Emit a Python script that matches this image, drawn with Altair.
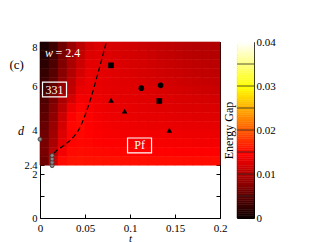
import altair as alt
import pandas as pd
import numpy as np

FONT = "Liberation Serif"

# ---- heatmap grid (cell centres) ----
T_CENTERS = [0.005, 0.015, 0.025, 0.035, 0.045, 0.055, 0.065, 0.075, 0.085, 0.095,
             0.105, 0.115, 0.125, 0.135, 0.145, 0.155, 0.165, 0.175, 0.185, 0.195]
D_CENTERS = [7.8, 7.4, 7.0, 6.6, 6.2, 5.8, 5.4, 5.0, 4.6, 4.2, 3.8, 3.4, 3.0, 2.6]
T_STEP = 0.01
D_STEP = 0.4
# energy gap values, units of 1e-3, rows top (d=7.8) to bottom (d=2.6)
GAP = [
    [1.0, 3.0, 6.0, 8.5, 10.5, 12.0, 12.5, 12.3, 12.2, 12.0, 11.8, 11.5, 11.2, 11.0, 10.8, 10.5, 10.3, 10.2, 10.1, 10.0],
    [1.5, 3.5, 6.5, 9.0, 11.0, 12.5, 12.8, 12.6, 12.4, 12.2, 12.0, 11.8, 11.5, 11.2, 11.0, 10.8, 10.5, 10.4, 10.3, 10.2],
    [2.0, 4.0, 7.0, 9.5, 11.5, 13.0, 13.0, 12.8, 12.6, 12.4, 12.2, 12.0, 11.8, 11.5, 11.3, 11.1, 10.9, 10.7, 10.6, 10.5],
    [2.5, 4.5, 7.5, 10.0, 12.0, 13.3, 13.1, 12.9, 12.7, 12.6, 12.4, 12.2, 12.0, 11.8, 11.6, 11.4, 11.2, 11.0, 10.9, 10.8],
    [3.0, 5.0, 8.0, 10.5, 12.8, 13.5, 13.2, 13.0, 12.9, 12.8, 12.6, 12.4, 12.2, 12.0, 11.9, 11.7, 11.5, 11.3, 11.2, 11.1],
    [3.5, 5.5, 8.5, 11.0, 13.3, 13.6, 13.3, 13.1, 13.0, 12.9, 12.8, 12.6, 12.5, 12.3, 12.2, 12.0, 11.9, 11.7, 11.6, 11.5],
    [4.0, 6.5, 9.5, 12.0, 14.0, 13.8, 13.5, 13.3, 13.1, 13.0, 12.9, 12.8, 12.7, 12.6, 12.5, 12.4, 12.3, 12.2, 12.1, 12.0],
    [4.5, 7.5, 10.5, 13.5, 14.8, 14.2, 13.8, 13.5, 13.3, 13.2, 13.1, 13.0, 12.9, 12.8, 12.7, 12.6, 12.5, 12.5, 12.4, 12.4],
    [5.0, 8.0, 11.5, 14.5, 15.3, 14.5, 14.0, 13.7, 13.5, 13.4, 13.3, 13.2, 13.1, 13.1, 13.0, 12.9, 12.9, 12.8, 12.8, 12.7],
    [5.5, 8.5, 12.0, 15.0, 15.2, 14.6, 14.2, 14.0, 13.8, 13.7, 13.6, 13.5, 13.4, 13.4, 13.3, 13.3, 13.2, 13.2, 13.1, 13.1],
    [6.0, 9.0, 12.5, 14.8, 15.0, 14.7, 14.4, 14.2, 14.1, 14.0, 13.9, 13.9, 13.8, 13.8, 13.7, 13.7, 13.6, 13.6, 13.6, 13.5],
    [6.5, 9.5, 13.0, 14.8, 15.0, 14.9, 14.7, 14.6, 14.5, 14.4, 14.3, 14.3, 14.2, 14.2, 14.1, 14.1, 14.1, 14.0, 14.0, 14.0],
    [6.5, 10.5, 14.0, 15.2, 15.3, 15.2, 15.1, 15.0, 14.9, 14.9, 14.8, 14.8, 14.7, 14.7, 14.7, 14.6, 14.6, 14.6, 14.6, 14.5],
    [6.0, 12.0, 15.2, 15.7, 15.8, 15.7, 15.7, 15.6, 15.6, 15.5, 15.5, 15.5, 15.4, 15.4, 15.4, 15.4, 15.3, 15.3, 15.3, 15.3],
]

# ---- dashed phase boundary ----
LINE_T = [0.0133, 0.0144, 0.0256, 0.0348, 0.0440, 0.0515, 0.0570, 0.0644, 0.0737]
LINE_D = [2.60, 2.86, 3.27, 3.58, 4.08, 4.83, 5.51, 6.58, 8.00]

# ---- grey markers ----
GREY_T = [0.0135, 0.0135, 0.0135, 0.0135, 0.0]
GREY_D = [2.38, 2.53, 2.68, 2.84, 3.58]

# ---- black markers ----
MARK_T = [0.0789, 0.1326, 0.1126, 0.1340, 0.0790, 0.0940, 0.1437]
MARK_D = [6.94, 5.32, 5.90, 6.03, 5.35, 4.86, 3.99]
MARK_KIND = ["square", "square", "circle", "circle", "triangle", "triangle", "triangle"]

# ---- annotations ----
BOX_TEXT = ["331", "Pf"]
BOX_T = [0.0161, 0.1106]
BOX_D = [5.84, 3.30]

X_TICKS = [0, 0.05, 0.1, 0.15, 0.2]
Y_TICKS = [0, 1, 2, 2.4, 3, 4, 5, 6, 7, 8]
Y_LABELS = ["0", "", "2", "2.4", "", "4", "", "6", "", "8"]
CB_LABELS = [0, 0.01, 0.02, 0.03, 0.04]
CB_SEPARATORS = [0.005, 0.01, 0.015, 0.02, 0.025, 0.03, 0.035]

# ---- tables ----
rows = []
for i, d in enumerate(D_CENTERS):
    for j, t in enumerate(T_CENTERS):
        rows.append({"t0": t - T_STEP / 2, "t1": t + T_STEP / 2,
                     "d0": d - D_STEP / 2, "d1": d + D_STEP / 2,
                     "gap": GAP[i][j] / 1000.0})
heat_df = pd.DataFrame(rows)
line_df = pd.DataFrame({"t": LINE_T, "d": LINE_D, "o": list(range(len(LINE_T)))})
grey_df = pd.DataFrame({"t": GREY_T, "d": GREY_D})
mark_df = pd.DataFrame({"t": MARK_T, "d": MARK_D, "kind": MARK_KIND})
box_df = pd.DataFrame({"t": BOX_T, "d": BOX_D, "txt": BOX_TEXT})
w_df = pd.DataFrame({"t": [0.0056], "d": [7.5], "txt": ["w"]})
eq_df = pd.DataFrame({"t": [0.0172], "d": [7.5], "txt": ["= 2.4"]})
c_df = pd.DataFrame({"t": [-0.0259], "d": [6.95], "txt": ["(c)"]})

lv = np.linspace(0, 0.04, 81)
cb_df = pd.DataFrame({"lo": lv[:-1], "hi": lv[1:], "mid": (lv[:-1] + lv[1:]) / 2,
                      "a": 0.0, "b": 1.0})
sep_df = pd.DataFrame({"v": CB_SEPARATORS, "a": 0.0, "b": 1.0})

# ---- scales ----
xs = alt.Scale(domain=[0, 0.2], nice=False, zero=False)
ys = alt.Scale(domain=[0, 8], nice=False, zero=False)
cscale = alt.Scale(domain=[0, 0.0146, 0.0298, 0.04],
                   range=["#0b0000", "#ff0000", "#ffff00", "#ffffff"],
                   interpolate="rgb", clamp=True)
cys = alt.Scale(domain=[0, 0.04], nice=False, zero=False)
cxs = alt.Scale(domain=[0, 1], nice=False, zero=False)

# label lookup built from the two lists
ylab_expr = "''"
for v, s in zip(Y_TICKS, Y_LABELS):
    ylab_expr = "(abs(datum.value - %s) < 0.001 ? '%s' : %s)" % (v, s, ylab_expr)

x_bottom = alt.Axis(orient="bottom", values=X_TICKS, format="~g", title="t",
                    titleFontStyle="italic", titleFontSize=11, offset=-4, tickSize=4,
                    domain=False, grid=False, labelPadding=4, titlePadding=-1,
                    labelOverlap=False, labelFlush=False)
y_left = alt.Axis(orient="left", values=Y_TICKS, title="d",
                  titleFontStyle="italic", titleAngle=0, titleX=-23.5, titleY=88,
                  titleAlign="center", titleBaseline="middle", labelFontSize=10.5,
                  offset=-4, tickSize=4, domain=False, grid=False, labelPadding=3,
                  labelOverlap=False, labelFlush=False,
                  labelExpr=ylab_expr,
                  labelBaseline={"condition": {"test": "datum.value == 8", "value": "top"},
                                 "value": "middle"})
x_top = alt.Axis(orient="top", values=X_TICKS, labels=False, title=None, offset=-4,
                 tickSize=4, domain=False, grid=False)
y_right = alt.Axis(orient="right", values=Y_TICKS, labels=False, title=None, offset=-4,
                   tickSize=4, domain=False, grid=False)

heat = alt.Chart(heat_df).mark_rect(strokeWidth=0.6).encode(
    x=alt.X("t0:Q", scale=xs, axis=x_bottom),
    x2="t1:Q",
    y=alt.Y("d0:Q", scale=ys, axis=y_left),
    y2="d1:Q",
    color=alt.Color("gap:Q", scale=cscale, legend=None),
    stroke=alt.Stroke("gap:Q", scale=cscale, legend=None),
)

line = alt.Chart(line_df).mark_line(color="black", strokeDash=[5, 3], strokeWidth=1.2,
                                    interpolate="monotone").encode(
    x=alt.X("t:Q", scale=xs, axis=x_top),
    y=alt.Y("d:Q", scale=ys, axis=y_right),
    order="o:Q",
)

grey = alt.Chart(grey_df).mark_point(shape="circle", size=16, filled=True, fill="#8a8a8a",
                                     stroke="#3a3a3a", strokeWidth=0.8, opacity=1).encode(
    x=alt.X("t:Q", scale=xs, axis=None),
    y=alt.Y("d:Q", scale=ys, axis=None),
)

marks = alt.Chart(mark_df).mark_point(filled=True, color="black", size=32, opacity=1).encode(
    x=alt.X("t:Q", scale=xs, axis=None),
    y=alt.Y("d:Q", scale=ys, axis=None),
    shape=alt.Shape("kind:N", scale=alt.Scale(domain=["square", "circle", "triangle"],
                                              range=["square", "circle", "triangle-up"]),
                    legend=None),
)

boxes = alt.Chart(box_df).mark_point(
    shape="M-1.2,-0.74L1.2,-0.74L1.2,0.74L-1.2,0.74Z", size=400, filled=False,
    stroke="white", strokeWidth=1.2, opacity=1).encode(
    x=alt.X("t:Q", scale=xs, axis=None),
    y=alt.Y("d:Q", scale=ys, axis=None),
)

box_txt = alt.Chart(box_df).mark_text(color="white", fontSize=12, font=FONT,
                                      align="center", baseline="middle").encode(
    x=alt.X("t:Q", scale=xs, axis=None),
    y=alt.Y("d:Q", scale=ys, axis=None),
    text="txt:N",
)

w_txt = alt.Chart(w_df).mark_text(color="white", fontSize=12, font=FONT, fontStyle="italic",
                                  align="left", baseline="middle").encode(
    x=alt.X("t:Q", scale=xs, axis=None),
    y=alt.Y("d:Q", scale=ys, axis=None),
    text="txt:N",
)
eq_txt = alt.Chart(eq_df).mark_text(color="white", fontSize=12, font=FONT,
                                    align="left", baseline="middle").encode(
    x=alt.X("t:Q", scale=xs, axis=None),
    y=alt.Y("d:Q", scale=ys, axis=None),
    text="txt:N",
)
c_txt = alt.Chart(c_df).mark_text(color="black", fontSize=13, font=FONT,
                                  align="center", baseline="middle").encode(
    x=alt.X("t:Q", scale=xs, axis=None),
    y=alt.Y("d:Q", scale=ys, axis=None),
    text="txt:N",
)

main = alt.layer(heat, line, grey, marks, boxes, box_txt, w_txt, eq_txt, c_txt).resolve_axis(
    x="independent", y="independent").properties(width=180, height=176)

cb_rect = alt.Chart(cb_df).mark_rect(strokeWidth=0.5).encode(
    x=alt.X("a:Q", scale=cxs, axis=None),
    x2="b:Q",
    y=alt.Y("lo:Q", scale=cys,
            axis=alt.Axis(orient="right", values=CB_LABELS, format="~g", ticks=False,
                          domain=False, grid=False, labelPadding=2, title=None,
                          labelOverlap=False, labelFlush=False)),
    y2="hi:Q",
    color=alt.Color("mid:Q", scale=cscale, legend=None),
    stroke=alt.Stroke("mid:Q", scale=cscale, legend=None),
)
cb_sep = alt.Chart(sep_df).mark_rule(color="#2a2a2a", strokeWidth=0.8).encode(
    x=alt.X("a:Q", scale=cxs, axis=None),
    x2="b:Q",
    y=alt.Y("v:Q", scale=cys,
            axis=alt.Axis(orient="left", labels=False, ticks=False, domain=False, grid=False,
                          title="Energy Gap", titlePadding=2)),
)
colorbar = alt.layer(cb_rect, cb_sep).resolve_axis(y="independent").properties(
    width=17, height=176)

chart = alt.hconcat(main, colorbar, spacing=17, bounds="flush").properties(
    padding={"left": 0, "top": 27, "right": 0, "bottom": 0},
    background="white",
).configure_axis(
    labelFont=FONT, titleFont=FONT, labelFontSize=11, titleFontSize=12,
    labelColor="black", titleColor="black", tickColor="black", tickWidth=1,
    titleFontWeight="normal",
).configure_view(stroke="black", strokeWidth=1).configure_text(font=FONT)

chart.save("out.html", embed_options={"renderer": "svg", "actions": False})
